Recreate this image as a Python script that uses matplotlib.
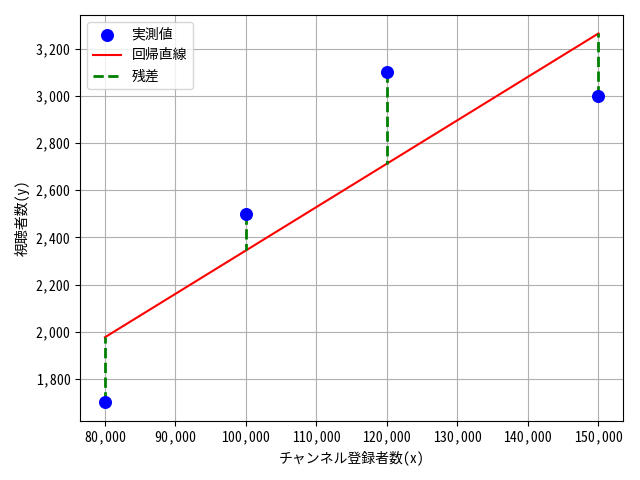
import matplotlib
matplotlib.use("Agg")
import matplotlib.pyplot as plt
import numpy as np
from matplotlib.ticker import FuncFormatter
import logging
logging.getLogger('matplotlib.font_manager').setLevel(logging.ERROR)

plt.rcParams['font.family'] = ['Noto Sans Mono CJK JP', 'DejaVu Sans Mono', 'Noto Sans CJK JP']

subscribers = np.array([80000, 100000, 120000, 150000])
viewers = np.array([1700, 2500, 3100, 3000])

slope, intercept = np.polyfit(subscribers, viewers, 1)
pred = slope * subscribers + intercept

fig, ax = plt.subplots(figsize=(6.4, 4.8), dpi=100)
ax.scatter(subscribers, viewers, color='blue', s=70, label='実測値', zorder=3)
ax.plot(subscribers, pred, color='red', label='回帰直線')
for i, (x, y, p) in enumerate(zip(subscribers, viewers, pred)):
    ax.plot([x, x], [y, p], color='green', linestyle='--', linewidth=2,
            label='残差' if i == 0 else None)

ax.set_xlabel('チャンネル登録者数(x)')
ax.set_ylabel('視聴者数(y)')
fmt = FuncFormatter(lambda v, _: f'{int(v):,}')
ax.xaxis.set_major_formatter(fmt)
ax.yaxis.set_major_formatter(fmt)
ax.grid(True)
ax.legend(loc='upper left')
fig.tight_layout()
fig.savefig('out.png', dpi=100)
